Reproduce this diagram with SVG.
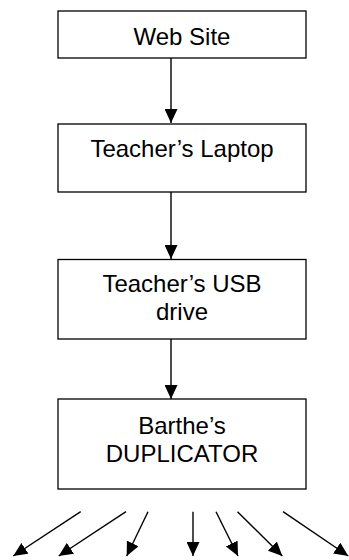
<svg xmlns="http://www.w3.org/2000/svg" width="349" height="560" viewBox="0 0 349 560">
<defs>
<style>
.box{fill:#fff;stroke:#000;stroke-width:1.3}
.t{font-family:"Liberation Sans",Arial,sans-serif;font-size:24px;fill:#000;text-anchor:middle}
.c{stroke:#000;stroke-width:1.4;fill:none;marker-end:url(#ah)}
</style>
<marker id="ah" markerUnits="userSpaceOnUse" markerWidth="14" markerHeight="13" refX="14" refY="6.5" orient="auto">
<path d="M0,0 L14,6.5 L0,13 z" fill="#000"/>
</marker>
</defs>
<rect width="349" height="560" fill="#fff"/>
<g id="connectors">
<line class="c" x1="171" y1="58" x2="171" y2="123"/>
<line class="c" x1="171" y1="192" x2="171" y2="259"/>
<line class="c" x1="171" y1="339" x2="171" y2="399"/>
<line class="c" x1="80.7" y1="511.7" x2="13.3" y2="556"/>
<line class="c" x1="126" y1="511.7" x2="58.7" y2="556"/>
<line class="c" x1="148" y1="511.7" x2="126.7" y2="556"/>
<line class="c" x1="193" y1="511.7" x2="193" y2="556"/>
<line class="c" x1="216" y1="511.7" x2="238" y2="556"/>
<line class="c" x1="237.5" y1="511.7" x2="282.3" y2="556"/>
<line class="c" x1="283" y1="511.7" x2="348.3" y2="556"/>
</g>
<g id="web-site">
<rect class="box" x="58" y="11" width="248" height="47"/>
<text class="t" x="182" y="45">Web Site</text>
</g>
<g id="teachers-laptop">
<rect class="box" x="58" y="124" width="248" height="68"/>
<text class="t" x="182" y="157">Teacher’s Laptop</text>
</g>
<g id="teachers-usb">
<rect class="box" x="58" y="259.5" width="248" height="79.5"/>
<text class="t" x="182" y="292">Teacher’s USB</text>
<text class="t" x="182" y="320">drive</text>
</g>
<g id="duplicator">
<rect class="box" x="58" y="399" width="248" height="90"/>
<text class="t" x="182" y="434">Barthe’s</text>
<text class="t" x="182" y="462">DUPLICATOR</text>
</g>
</svg>
